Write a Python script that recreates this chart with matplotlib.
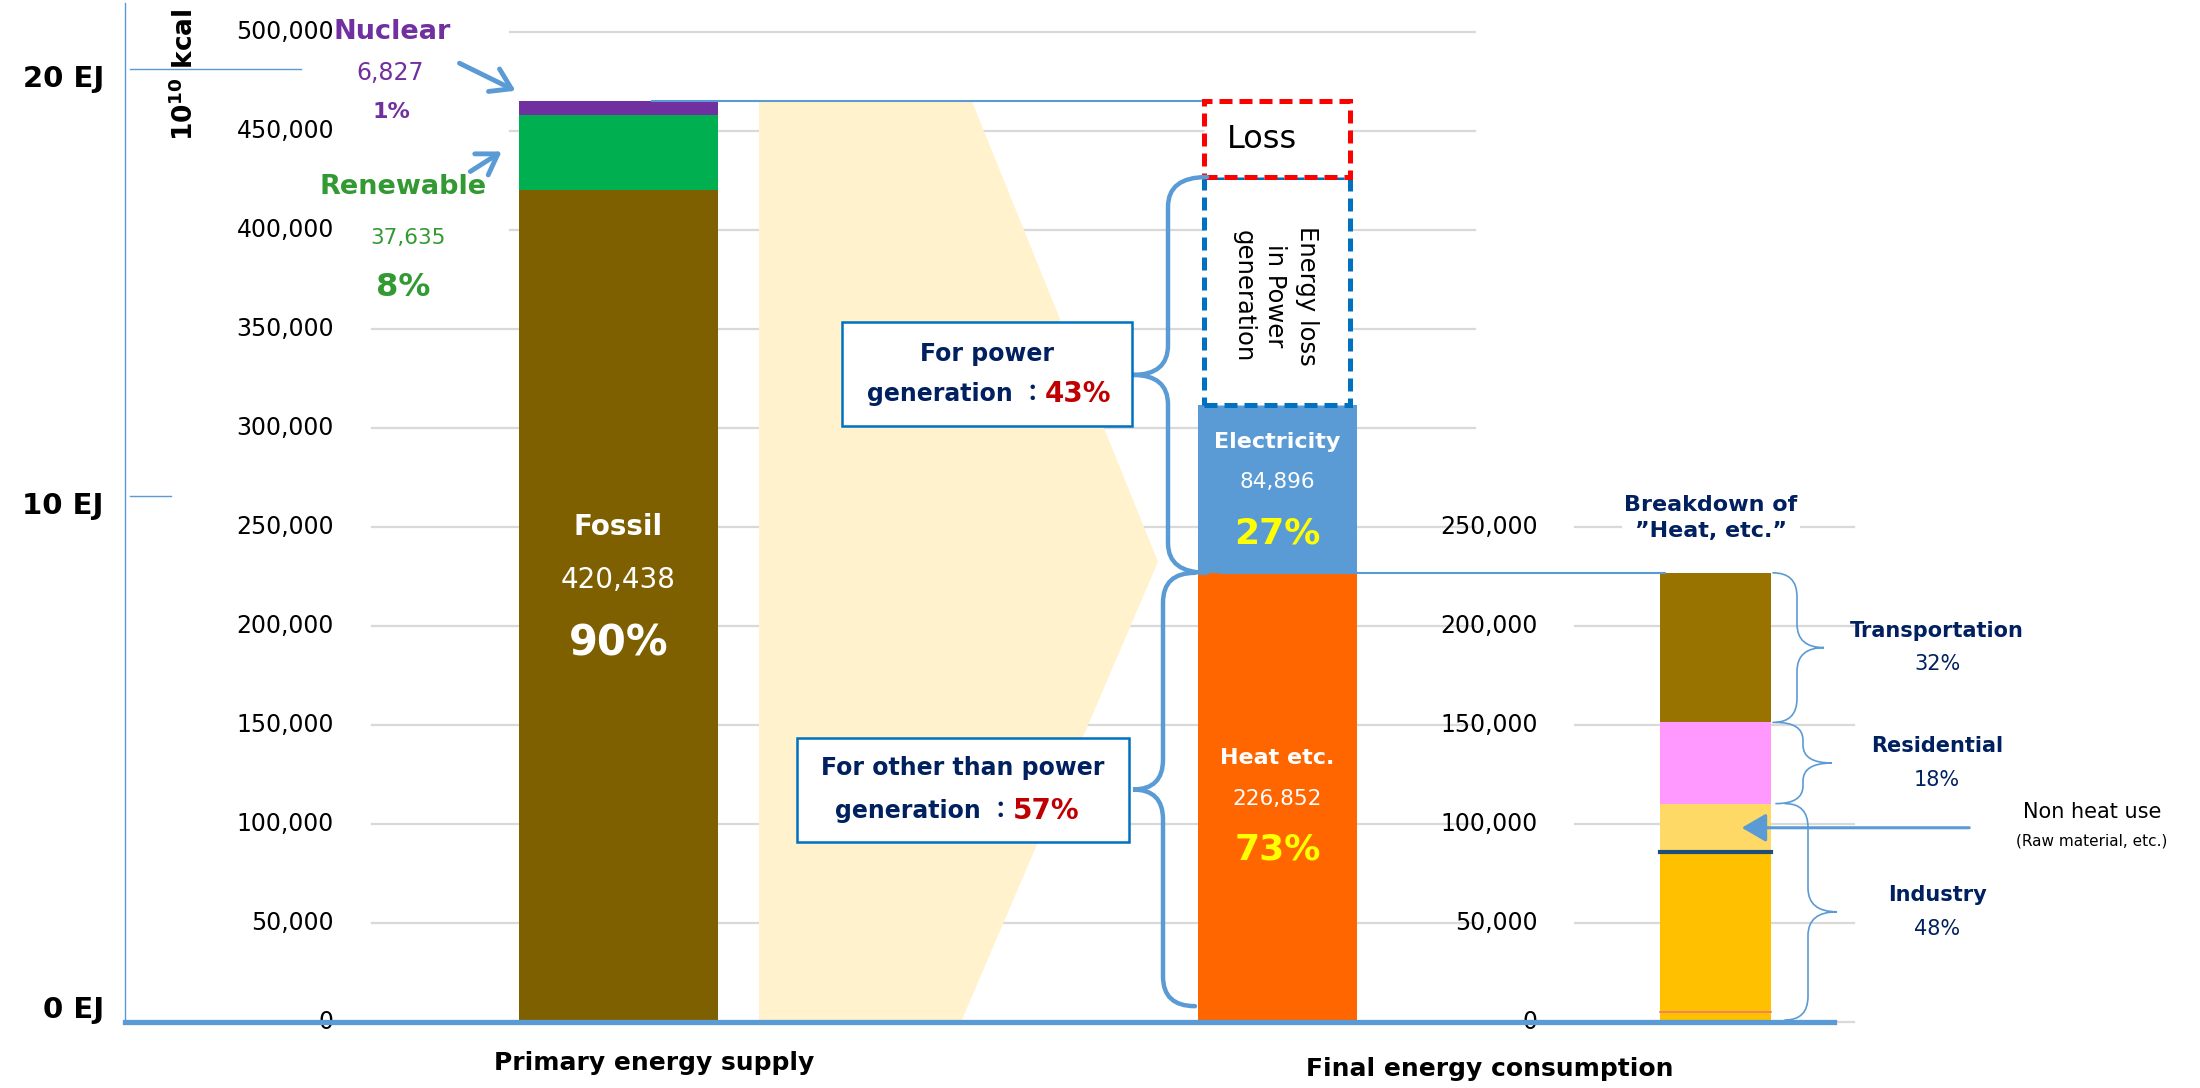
import matplotlib.pyplot as plt
import numpy as np
from matplotlib.patches import Rectangle, Polygon, PathPatch
from matplotlib.path import Path

plt.rcParams['font.family'] = ['DejaVu Sans', 'Noto Sans CJK JP']

# data, unit: 10^10 kcal
primary_values = [420438, 37635, 6827]          # fossil, renewable, nuclear
primary_share = ["90%", "8%", "1%"]
primary_colors = ["#7F6000", "#00B050", "#7030A0"]

final_values = [226852, 84896]                  # heat etc., electricity
final_share = ["73%", "27%"]
final_colors = ["#FF6600", "#5B9BD5"]

power_share = 0.43
other_share = 0.57

# breakdown of "heat, etc." (bottom to top)
heat_values = [5000, 80900, 24400, 41000, 75552]
heat_colors = ["#FFC000", "#FFC000", "#FFD966", "#FF99FF", "#997300"]
sector_labels = ["Transportation", "Residential", "Industry"]
sector_share = ["32%", "18%", "48%"]

left_ticks = np.arange(0, 500001, 50000)
right_ticks = np.arange(0, 250001, 50000)
ej_labels = ["0 EJ", "10 EJ", "20 EJ"]
ej_values = [0, 265700, 481300]

NAVY = "#002060"
BLUE = "#5B9BD5"

# pixel row -> value (layout helper)
Y0, K = 1022, 99 / 50000


def v(p):
    return (Y0 - p) / K


fig = plt.figure(figsize=(22, 10.88), dpi=100)
ax = fig.add_axes([0, 0, 1, 1])
ax.set_xlim(0, 2200)
ax.set_ylim(v(1088), v(0))
ax.axis("off")


def brace(x_end, x_spine, x_tip, y_lo, y_hi, r, lw):
    ym = (y_lo + y_hi) / 2
    verts = [(x_end, y_hi), (x_spine, y_hi), (x_spine, y_hi - r),
             (x_spine, ym + r), (x_spine, ym), (x_tip, ym),
             (x_spine, ym), (x_spine, ym - r),
             (x_spine, y_lo + r), (x_spine, y_lo), (x_end, y_lo)]
    codes = [Path.MOVETO, Path.CURVE3, Path.CURVE3,
             Path.LINETO, Path.CURVE3, Path.CURVE3,
             Path.CURVE3, Path.CURVE3,
             Path.LINETO, Path.CURVE3, Path.CURVE3]
    ax.add_patch(PathPatch(Path(verts, codes), fill=False, lw=lw, ec=BLUE,
                           zorder=6, capstyle="round"))
    return ym


total = sum(primary_values)
heat_top = final_values[0]
elec_top = sum(final_values)
power_top = heat_top + power_share * total

# gridlines
for t in left_ticks:
    x0 = 510 if t >= 400000 else 372
    ax.plot([x0, 1475], [t, t], color="#D9D9D9", lw=1.6, zorder=1)
    ax.text(334, t, f"{t:,}", ha="right", va="center", fontsize=17)
for t in right_ticks:
    ax.plot([1575, 1854], [t, t], color="#D9D9D9", lw=1.6, zorder=1)
    ax.text(1538, t, f"{t:,}", ha="right", va="center", fontsize=17)

# EJ axis
ax.plot([125, 125], [0, v(3)], color=BLUE, lw=1)
for lab, val in zip(ej_labels, ej_values):
    ax.text(104, val + (6000 if val == 0 else -5000), lab, ha="right",
            va="center", fontsize=21, fontweight="bold")
ax.plot([130, 301], [ej_values[2]] * 2, color=BLUE, lw=1)
ax.plot([130, 171], [ej_values[1]] * 2, color=BLUE, lw=1)
ax.text(185, v(75), r"$\mathbf{10^{10}}$ kcal", rotation=90, ha="center",
        va="center", fontsize=19, fontweight="bold")

# chevron between primary and final
ax.add_patch(Polygon([(759, total), (972, total), (1158, total / 2),
                      (961, 0), (759, 0)], closed=True, fc="#FFF2CC",
                     ec="none", zorder=2))

# primary supply bar
bot = np.concatenate([[0], np.cumsum(primary_values)[:-1]])
ax.bar([618.5] * 3, primary_values, width=199, bottom=bot,
       color=primary_colors, zorder=3)
ax.text(618.5, v(527), "Fossil", color="white", fontsize=20,
        fontweight="bold", ha="center", va="center", zorder=7)
ax.text(618.5, v(580), f"{primary_values[0]:,}", color="white", fontsize=20,
        ha="center", va="center", zorder=7)
ax.text(618.5, v(643), primary_share[0], color="white", fontsize=30,
        fontweight="bold", ha="center", va="center", zorder=7)

PURPLE, GREEN = "#7030A0", "#339933"
ax.text(392, v(32), "Nuclear", color=PURPLE, fontsize=19.5,
        fontweight="bold", ha="center", va="center")
ax.text(390, v(73), f"{primary_values[2]:,}", color=PURPLE, fontsize=17,
        ha="center", va="center")
ax.text(391, v(112), primary_share[2], color=PURPLE, fontsize=16,
        fontweight="bold", ha="center", va="center")
ax.text(403, v(187), "Renewable", color=GREEN, fontsize=19.5,
        fontweight="bold", ha="center", va="center")
ax.text(408, v(238), f"{primary_values[1]:,}", color=GREEN, fontsize=15.5,
        ha="center", va="center")
ax.text(403, v(288), primary_share[1], color=GREEN, fontsize=23,
        fontweight="bold", ha="center", va="center")
arrow = dict(arrowstyle="->,head_length=0.7,head_width=0.45", lw=3.5,
             color=BLUE, mutation_scale=20)
ax.annotate("", xy=(518, v(92)), xytext=(457, v(62)), arrowprops=arrow)
ax.annotate("", xy=(504, v(150)), xytext=(468, v(173)), arrowprops=arrow)

# final consumption bar
fbot = [0, heat_top]
ax.bar([1277.5] * 2, final_values, width=159, bottom=fbot,
       color=final_colors, zorder=3)
for lab, val, share, rows in [("Electricity", final_values[1], final_share[1], (442, 482, 533)),
                              ("Heat etc.", final_values[0], final_share[0], (758, 799, 850))]:
    ax.text(1277.5, v(rows[0]), lab, color="white", fontsize=16,
            fontweight="bold", ha="center", va="center", zorder=7)
    ax.text(1277.5, v(rows[1]), f"{val:,}", color="white", fontsize=15.5,
            ha="center", va="center", zorder=7)
    ax.text(1277.5, v(rows[2]), share, color="#FFFF00", fontsize=26,
            fontweight="bold", ha="center", va="center", zorder=7)

# loss boxes
ax.add_patch(Rectangle((1204, elec_top), 146, power_top - elec_top,
                       fc="white", ec="#0070C0", lw=3.6,
                       ls=(0, (2.6, 1.4)), zorder=4))
ax.add_patch(Rectangle((1204, power_top), 146, total - power_top,
                       fc="white", ec="#FF0000", lw=3.6,
                       ls=(0, (2.6, 1.4)), zorder=5))
ax.text(1262, (power_top + total) / 2, "Loss", fontsize=23, ha="center",
        va="center", zorder=7)
ax.text(1275, v(296),
        "Energy loss\nin Power\ngeneration", rotation=-90, fontsize=17.5,
        ha="center", va="center", linespacing=1.4, zorder=7)

# connector lines
ax.plot([652, 1204], [total, total], color=BLUE, lw=1.5, zorder=4)
ax.plot([1220, 1665], [heat_top, heat_top], color=BLUE, lw=1.5, zorder=4)

# braces and text boxes
brace(1207, 1168, 1133, heat_top, power_top, 15000, 3.2)
brace(1195, 1163, 1133, 8000, heat_top, 15000, 3.2)

for (x0, x1, p0, p1, l1, split, pct, r1, r2) in [
        (842, 1132, 322, 426, "For power", 1045, power_share, 354, 394),
        (797, 1129, 738, 842, "For other than power", 1013, other_share, 768, 811)]:
    ax.add_patch(Rectangle((x0, v(p1)), x1 - x0, v(p0) - v(p1), fc="white",
                           ec="#0070C0", lw=1.8, zorder=6))
    ax.text((x0 + x1) / 2, v(r1), l1, color=NAVY, fontsize=17,
            fontweight="bold", ha="center", va="center", zorder=7)
    ax.text(split, v(r2), "generation ：", color=NAVY, fontsize=17,
            fontweight="bold", ha="right", va="center", zorder=7)
    ax.text(split, v(r2), f"{pct:.0%}", color="#C00000", fontsize=20,
            fontweight="bold", ha="left", va="center", zorder=7)

# breakdown bar
hbot = np.concatenate([[0], np.cumsum(heat_values)[:-1]])
hcum = np.cumsum(heat_values)
ax.bar([1715.5] * len(heat_values), heat_values, width=111, bottom=hbot,
       color=heat_colors, zorder=3)
ax.plot([1660, 1771], [hcum[0]] * 2, color="#F4766E", lw=1.2, zorder=4)
ax.plot([1660, 1771], [hcum[1]] * 2, color="#1F4E79", lw=3, zorder=4)
ax.text(1711, v(518), "Breakdown of\n”Heat, etc.”", color=NAVY, fontsize=16,
        fontweight="bold", ha="center", va="center", linespacing=1.4,
        bbox=dict(fc="white", ec="none", pad=2), zorder=5)

mids = [brace(1773, 1797, 1824, hcum[3], hcum[4], 12000, 1.2),
        brace(1776, 1803, 1832, hcum[2], hcum[3], 9000, 1.2),
        brace(1785, 1808, 1837, 1000, hcum[2], 12000, 1.2)]
for m, lab, share in zip(mids, sector_labels, sector_share):
    ax.text(1937, m + 8500, lab, color=NAVY, fontsize=15, fontweight="bold",
            ha="center", va="center")
    ax.text(1937, m - 8500, share, color=NAVY, fontsize=15, ha="center",
            va="center")

nh = hcum[1] + heat_values[2] / 2
ax.annotate("", xy=(1739, nh), xytext=(1972, nh),
            arrowprops=dict(arrowstyle="-|>,head_length=0.6,head_width=0.35",
                            lw=2.2, color=BLUE, mutation_scale=25), zorder=6)
ax.text(2092, v(812), "Non heat use", fontsize=15, ha="center", va="center")
ax.text(2092, v(841), "(Raw material, etc.)", fontsize=11, ha="center",
        va="center")

# baseline and category labels
ax.plot([125, 1834], [0, 0], color=BLUE, lw=3.8, zorder=8)
ax.text(654, v(1063), "Primary energy supply", fontsize=18,
        fontweight="bold", ha="center", va="center")
ax.text(1490, v(1069), "Final energy consumption", fontsize=18,
        fontweight="bold", ha="center", va="center")

fig.savefig("out.png", dpi=100)
